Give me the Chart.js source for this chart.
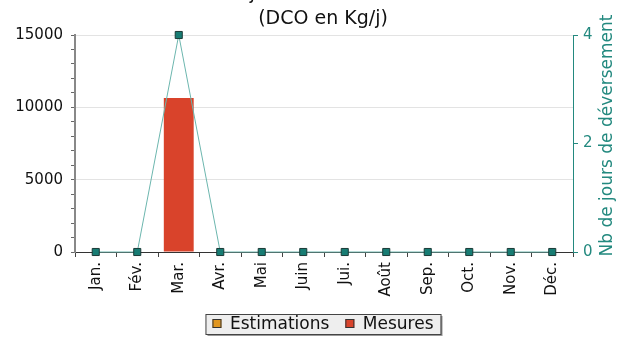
<!DOCTYPE html>
<html lang="fr">

<head>
  <meta charset="UTF-8">
  <title>Flux journaliers</title>
  <script src="https://cdn.jsdelivr.net/npm/chart.js"></script>
  <style>
    body { margin: 0; background: #fff; }
  </style>
</head>

<body>
  <canvas id="fluxChart" width="623" height="338"></canvas>

  <script>
    // données
    const mois = ['Jan.', 'Fév.', 'Mar.', 'Avr.', 'Mai', 'Juin', 'Jui.', 'Août', 'Sep.', 'Oct.', 'Nov.', 'Déc.'];
    const estimations = [0, 0, 0, 0, 0, 0, 0, 0, 0, 0, 0, 0];
    const mesures = [0, 0, 10650, 0, 0, 0, 0, 0, 0, 0, 0, 0];
    const joursDeversement = [0, 0, 4, 0, 0, 0, 0, 0, 0, 0, 0, 0];

    const titre = ['Flux journaliers déversés', '(DCO en Kg/j)'];
    const titreDroite = 'Nb de jours de déversement';

    const teal = '#23897f';
    const font = 'DejaVu Sans';

    // titres + légende encadrée (la légende de Chart.js ne fait pas de cadre)
    const decor = {
      id: 'decor',
      afterDraw(chart) {
        const ctx = chart.ctx;
        const area = chart.chartArea;
        const cx = (area.left + area.right) / 2 - 1;
        ctx.save();
        ctx.fillStyle = '#111';
        ctx.font = '19px "' + font + '"';
        ctx.textAlign = 'center';
        ctx.textBaseline = 'alphabetic';
        ctx.fillText(titre[0], cx, -1);
        ctx.fillText(titre[1], cx, 24);

        // légende
        const items = chart.data.datasets.filter(d => d.type === 'bar');
        ctx.font = '17px "' + font + '"';
        const box = 9, gap = 8.5, sep = 16;
        const widths = items.map(d => box + gap + ctx.measureText(d.label).width);
        const total = widths.reduce((a, b) => a + b, 0) + sep * (items.length - 1);
        let x = cx - total / 2;
        const y = 324;
        const bx = x - 7, by = 314, bw = total + 14, bh = 20;
        ctx.fillStyle = '#999';
        ctx.fillRect(bx + 2, by + 2, bw, bh);
        ctx.fillStyle = '#eeeeee';
        ctx.fillRect(bx, by, bw, bh);
        ctx.strokeStyle = '#444';
        ctx.lineWidth = 1;
        ctx.strokeRect(bx + 0.5, by + 0.5, bw, bh);
        ctx.textAlign = 'left';
        ctx.textBaseline = 'middle';
        items.forEach((d, i) => {
          ctx.fillStyle = d.backgroundColor;
          ctx.fillRect(x, y - 5, box, box);
          ctx.strokeStyle = '#333';
          ctx.strokeRect(x + 0.5, y - 4.5, box - 1, box - 1);
          ctx.fillStyle = '#111';
          ctx.fillText(d.label, x + box + gap, y + 1);
          x += widths[i] + sep;
        });

        // titre de l'axe de droite
        ctx.translate(608, (area.top + area.bottom) / 2 - 8);
        ctx.rotate(-Math.PI / 2);
        ctx.fillStyle = teal;
        ctx.font = '17px "' + font + '"';
        ctx.textAlign = 'center';
        ctx.textBaseline = 'middle';
        ctx.fillText(titreDroite, 0, 0);
        ctx.restore();
      }
    };

    new Chart(document.getElementById('fluxChart'), {
      data: {
        labels: mois,
        datasets: [{
          type: 'line',
          label: 'Jours de déversement',
          data: joursDeversement,
          yAxisID: 'y1',
          borderColor: '#6cb6ae',
          borderWidth: 1,
          pointStyle: 'rect',
          pointRadius: 5,
          pointBackgroundColor: '#177c73',
          pointBorderColor: '#1b3a37',
          pointBorderWidth: 1,
          clip: false,
          order: 0
        }, {
          type: 'bar',
          label: 'Estimations',
          data: estimations,
          backgroundColor: '#e0961f',
          yAxisID: 'y',
          barPercentage: 0.72,
          categoryPercentage: 1,
          order: 1
        }, {
          type: 'bar',
          label: 'Mesures',
          data: mesures,
          backgroundColor: '#d9432b',
          yAxisID: 'y',
          barPercentage: 0.72,
          categoryPercentage: 1,
          order: 1
        }]
      },
      options: {
        responsive: false,
        animation: false,
        layout: { padding: { top: 35, bottom: 38 } },
        plugins: {
          tooltip: { enabled: false },
          legend: { display: false }
        },
        scales: {
          x: {
            stacked: true,
            offset: true,
            afterFit: s => { s.height = 48; },
            grid: { drawOnChartArea: false, offset: true, tickLength: 5, tickColor: '#444' },
            border: { color: '#333' },
            ticks: {
              font: { family: font, size: 15 },
              color: '#111',
              minRotation: 90,
              maxRotation: 90,
              padding: 5
            }
          },
          y: {
            stacked: true,
            position: 'left',
            min: 0,
            max: 15000,
            afterFit: s => { s.width = 75; },
            grid: {
              color: c => c.tick && c.tick.value % 5000 === 0 ? '#e3e3e3' : 'rgba(0,0,0,0)',
              tickColor: '#666',
              tickLength: 4
            },
            border: { color: '#888', width: 2 },
            ticks: {
              stepSize: 1000,
              autoSkip: false,
              padding: 8,
              font: { family: font, size: 15 },
              color: '#111',
              callback: v => v % 5000 === 0 ? v : ''
            }
          },
          y1: {
            position: 'right',
            min: 0,
            max: 4,
            afterFit: s => { s.width = 50; },
            grid: { drawOnChartArea: false, tickColor: teal, tickLength: 5 },
            border: { color: teal },
            ticks: {
              stepSize: 2,
              font: { family: font, size: 15 },
              color: teal,
              padding: 5
            }
          }
        }
      },
      plugins: [decor]
    });
  </script>
</body>

</html>
